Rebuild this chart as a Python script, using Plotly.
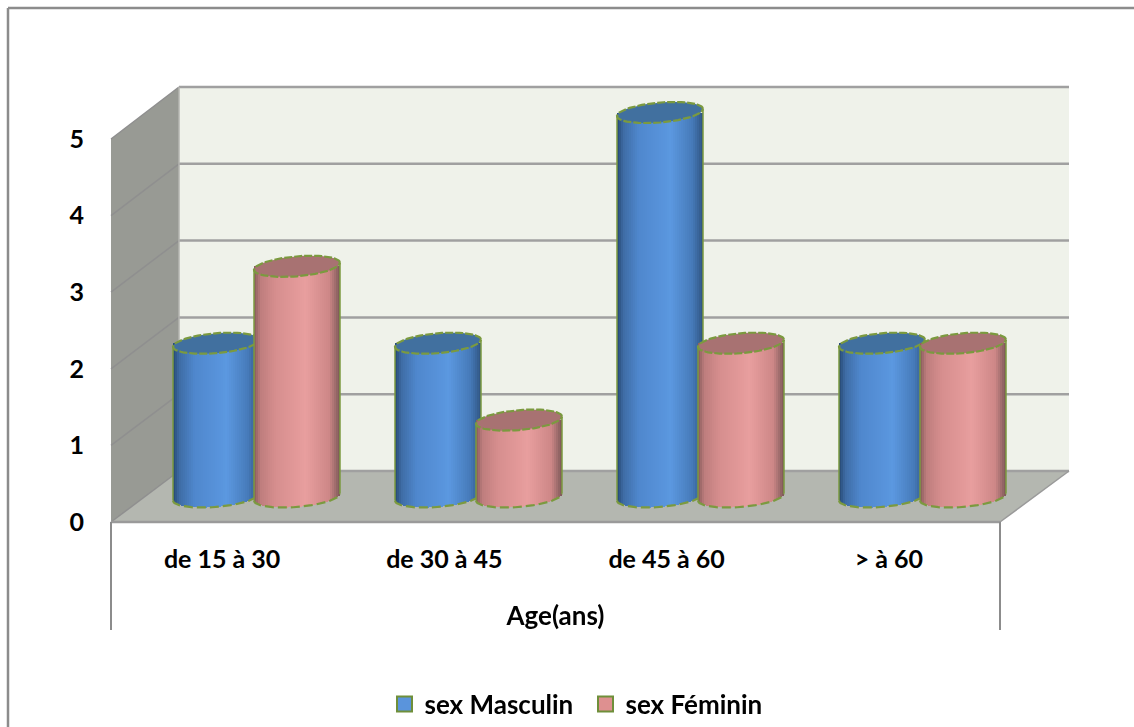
import numpy as np
import plotly.graph_objects as go

categories = ["de 15 à 30", "de 30 à 45", "de 45 à 60", "> à 60"]
masculin = [2, 2, 5, 2]
feminin = [3, 1, 2, 2]
y_ticks = [0, 1, 2, 3, 4, 5]
axis_title = "Age(ans)"
names = ["sex Masculin", "sex Féminin"]

W, H = 1134, 727
FONT = "Lato"
FS = 25
# pixel geometry of the bars' coordinate system
X0, XU = 256.5, 222.0
Y0, YU = 497.0, 76.9
OFF = 40.5 / XU
A, B, K = 43.0, 10.0, 3.5
STRIPS = 43
OUTLINE = "#7b9a3f"


def px(x):
    return x / W


def py(y):
    return 1 - y / H


def lerp(stops, t):
    ts = [s[0] for s in stops]
    rgb = [np.interp(t, ts, [s[1][i] for s in stops]) for i in range(3)]
    return "rgb(%d,%d,%d)" % tuple(int(round(v)) for v in rgb)


BLUE = [(-1, (38, 72, 115)), (-0.85, (62, 108, 165)), (-0.5, (79, 135, 205)),
        (0.25, (91, 152, 224)), (0.75, (70, 122, 185)), (1, (48, 84, 130))]
PINK = [(-1, (135, 92, 92)), (-0.85, (190, 125, 125)), (-0.5, (214, 142, 142)),
        (0.2, (232, 158, 158)), (0.75, (205, 135, 135)), (1, (125, 88, 88))]


def bar_trace(vals, off, stops, xa, ya):
    xs, bases, hs, cols, ws = [], [], [], [], []
    for i, v in enumerate(vals):
        for j in range(STRIPS):
            c = -1 + (2 * j + 1) / STRIPS
            bottom = (-B * np.sqrt(max(1 - c * c, 0)) + K * c) / YU
            xs.append(i + off + c * A / XU)
            bases.append(bottom)
            hs.append(v - bottom)
            cols.append(lerp(stops, c))
            ws.append(2.6 * A / XU / STRIPS)
    return go.Bar(x=xs, y=hs, base=bases, width=ws,
                  marker=dict(color=cols, line=dict(width=0)),
                  xaxis=xa, yaxis=ya, showlegend=False, hoverinfo="skip")


def cap_traces(vals, off, fill, xa, ya):
    out = []
    t = np.linspace(0, 2 * np.pi, 73)
    for i, v in enumerate(vals):
        cx = i + off
        ex = cx + A / XU * np.cos(t)
        ey = v + (B * np.sin(t) + K * np.cos(t)) / YU
        out.append(go.Scatter(x=ex, y=ey, mode="lines", fill="toself", fillcolor=fill,
                              line=dict(color=OUTLINE, width=2.2, dash="8px,2px"), xaxis=xa, yaxis=ya,
                              showlegend=False, hoverinfo="skip"))
        tb = np.linspace(np.pi, 2 * np.pi, 37)
        bx = cx + A / XU * np.cos(tb)
        by = (B * np.sin(tb) + K * np.cos(tb)) / YU
        out.append(go.Scatter(x=[ex[36], bx[0]], y=[ey[36], by[0]], mode="lines",
                              line=dict(color=OUTLINE, width=1.5), xaxis=xa, yaxis=ya,
                              showlegend=False, hoverinfo="skip"))
        out.append(go.Scatter(x=[ex[0], bx[-1]], y=[ey[0], by[-1]], mode="lines",
                              line=dict(color=OUTLINE, width=1.5), xaxis=xa, yaxis=ya,
                              showlegend=False, hoverinfo="skip"))
        out.append(go.Scatter(x=bx, y=by, mode="lines",
                              line=dict(color=OUTLINE, width=2.2, dash="9px,4px"), xaxis=xa, yaxis=ya,
                              showlegend=False, hoverinfo="skip"))
    return out


traces = [bar_trace(masculin, -OFF, BLUE, "x", "y")]
traces += cap_traces(masculin, -OFF, "#41709f", "x", "y")
traces.append(bar_trace(feminin, OFF, PINK, "x3", "y3"))
traces += cap_traces(feminin, OFF, "#a87272", "x3", "y3")

# category / value axes carrier
traces.append(go.Scatter(x=list(range(4)), y=masculin, mode="markers", opacity=0,
                         xaxis="x2", yaxis="y2", showlegend=False, hoverinfo="skip"))
# legend
for n, c in zip(names, ["#5a94dc", "#de9090"]):
    traces.append(go.Scatter(x=[None], y=[None], mode="markers", name=n,
                             marker=dict(symbol="square", size=15, color=c,
                                         line=dict(color="#6f8f3a", width=2))))

fig = go.Figure(traces)

GRID = "#a0a0a0"
WALL_L, WALL_R, WALL_T, WALL_B, FRONT_L, FRONT_R, FRONT_T, FRONT_B = 179, 1069, 87, 471, 111, 1000, 139, 522


def poly(pts, fill, line=None, width=0):
    d = "M " + " L ".join("%.5f,%.5f" % (px(a), py(b)) for a, b in pts) + " Z"
    return dict(type="path", path=d, xref="paper", yref="paper", fillcolor=fill,
                line=dict(color=line or "rgba(0,0,0,0)", width=width), layer="below")


def seg(x1, y1, x2, y2, color=GRID, width=2.5):
    return dict(type="line", x0=px(x1), y0=py(y1), x1=px(x2), y1=py(y2), xref="paper",
                yref="paper", line=dict(color=color, width=width), layer="below")


shapes = [
    poly([(WALL_L, WALL_T), (WALL_R, WALL_T), (WALL_R, WALL_B), (WALL_L, WALL_B)], "#eff2ea"),
    poly([(FRONT_L, FRONT_T), (WALL_L, WALL_T), (WALL_L, WALL_B), (FRONT_L, FRONT_B)], "#989a94"),
    poly([(FRONT_L, FRONT_B), (WALL_L, WALL_B), (WALL_R, WALL_B), (FRONT_R, FRONT_B)], "#b4b7b0"),
]
for v in y_ticks:
    yb = WALL_B - (WALL_B - WALL_T) * v / 5
    yf = FRONT_B - (FRONT_B - FRONT_T) * v / 5
    shapes.append(seg(WALL_L, yb, WALL_R, yb))
    shapes.append(seg(FRONT_L, yf, WALL_L, yb, "#8f8f8f", 1.5))
shapes += [
    seg(FRONT_L, FRONT_B, FRONT_R, FRONT_B, "#9a9a9a", 2.5),
    seg(FRONT_R, FRONT_B, WALL_R, WALL_B, "#9a9a9a", 1.5),
    seg(WALL_L, WALL_T, WALL_L, WALL_B, "#b5b5b0", 1.5),
    seg(FRONT_L, FRONT_B, FRONT_L, 630, "#8c8c8c", 2),
    seg(FRONT_R, FRONT_B, FRONT_R, 630, "#8c8c8c", 2),
    seg(8, 8, W, 8, "#8c8c8c", 2.5),
    seg(8, 8, 8, H, "#8c8c8c", 2.5),
]

full_x = [(0 - X0) / XU, (W - X0) / XU]
full_y = [(Y0 - H) / YU, Y0 / YU]
hidden = dict(visible=False, fixedrange=True)

fig.update_layout(
    width=W, height=H,
    margin=dict(l=0, r=0, t=0, b=0, autoexpand=False),
    paper_bgcolor="white", plot_bgcolor="rgba(0,0,0,0)",
    barmode="overlay", bargap=0,
    font=dict(family=FONT, color="black", size=FS),
    shapes=shapes,
    xaxis=dict(domain=[0, 1], range=full_x, anchor="y", **hidden),
    yaxis=dict(domain=[0, 1], range=full_y, anchor="x", **hidden),
    xaxis3=dict(range=full_x, overlaying="x", anchor="y3", **hidden),
    yaxis3=dict(range=full_y, overlaying="y", anchor="x3", **hidden),
    xaxis2=dict(domain=[px(FRONT_L), px(FRONT_R)], range=[-0.5, 3.5], anchor="y2",
                tickmode="array", tickvals=list(range(4)), ticktext=categories,
                showgrid=False, zeroline=False, showline=False, ticks="outside", ticklen=15,
                tickcolor="rgba(0,0,0,0)",
                tickfont=dict(family=FONT, size=FS, weight="bold"),
                title=dict(text=axis_title, standoff=34,
                           font=dict(family=FONT, size=26, weight="bold"))),
    yaxis2=dict(domain=[py(FRONT_B), py(FRONT_T)], range=[0, 5], anchor="x2",
                tickmode="array", tickvals=y_ticks, ticktext=[str(v) for v in y_ticks],
                showgrid=False, zeroline=False, showline=False, ticks="outside", ticklen=21,
                tickcolor="rgba(0,0,0,0)",
                tickfont=dict(family=FONT, size=FS, weight="bold")),
    legend=dict(orientation="h", x=px(384.5), xanchor="left", y=py(704), yanchor="middle",
                entrywidth=156, entrywidthmode="pixels",
                font=dict(family=FONT, size=26, weight="bold"), bgcolor="rgba(0,0,0,0)",
                itemclick=False, itemdoubleclick=False),
)

fig.write_html("out.html", config={"displayModeBar": False},
               post_script="document.body.style.margin='0';")
